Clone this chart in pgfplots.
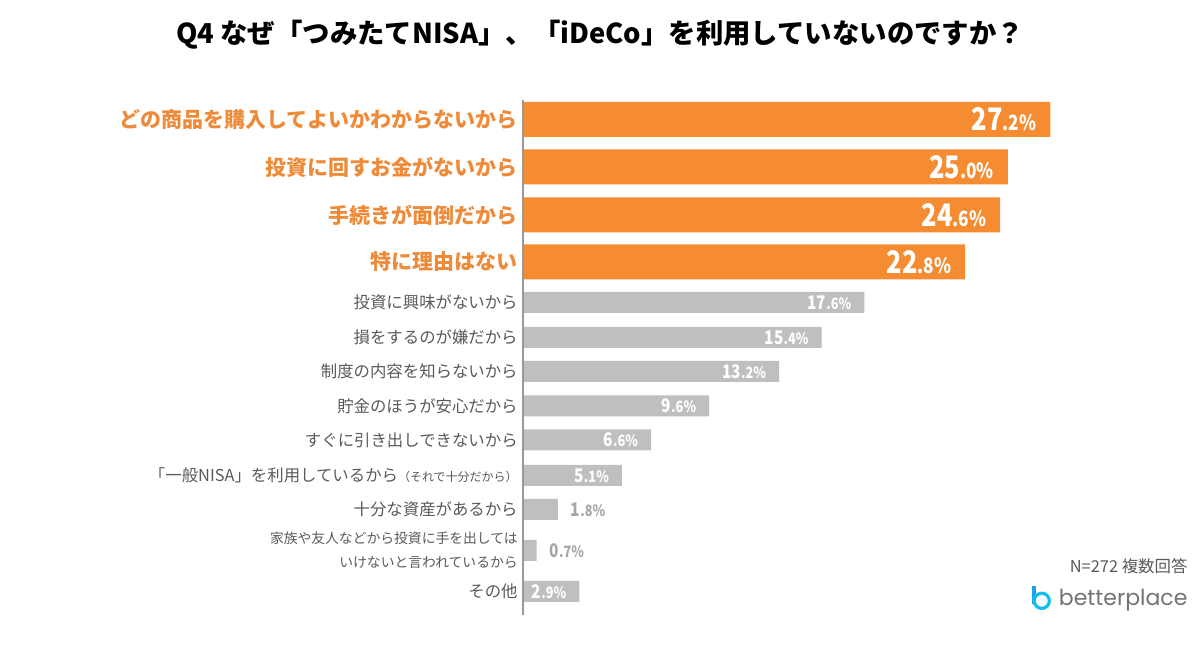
\documentclass[border=0pt]{standalone}
\usepackage{pgfplots}
\pgfplotsset{compat=1.18}
\usepackage{fontspec}
\setmainfont{Noto Sans CJK JP}
\newfontfamily\numfont[FakeStretch=0.82]{Noto Sans CJK JP}
\newfontfamily\logofont{Poppins}

\definecolor{barorange}{HTML}{F58C32}
\definecolor{laborange}{HTML}{EE8B3A}
\definecolor{bargray}{HTML}{BFBFBF}
\definecolor{labgray}{HTML}{595959}
\definecolor{vallight}{HTML}{A6A6A6}
\definecolor{logoblue}{HTML}{1AA3E8}

% category labels
\newcommand\olab[1]{{\fontsize{10.5}{12}\selectfont\bfseries\color{laborange}#1}}
\newcommand\glab[1]{{\fontsize{8.2}{10}\selectfont\color{labgray}#1}}
\newcommand\slab[1]{{\fontsize{6.9}{9}\selectfont\color{labgray}#1}}
% value labels: integer part large, decimals small
\def\vsplitO#1.#2\relax{{\numfont\bfseries\fontsize{15.5}{16}\selectfont #1}{\numfont\bfseries\fontsize{10.5}{11}\selectfont.#2\%}}
\def\vsplitG#1.#2\relax{{\numfont\bfseries\fontsize{9.4}{10}\selectfont #1}{\numfont\bfseries\fontsize{7.8}{8}\selectfont.#2\%}}

\begin{document}
\begin{tikzpicture}
\begin{axis}[
    width=600pt, height=326pt, scale only axis,
    xmin=-26.96, xmax=34.9,
    ymin=-652, ymax=0,
    clip=false,
    axis line style={draw=none},
    major tick length=0pt,
    xtick=\empty,
    ytick={-591.5,-550.5,-509.5,-475.5,-440,-406,-371.5,-337.5,-302.5,-262,-215,-167,-119.5},
    yticklabels={
        {\glab{その他}},
        {\slab{家族や友人などから投資に手を出しては}\\\slab{いけないと言われているから}},
        {\glab{十分な資産があるから}},
        {\glab{「一般NISA」を利用しているから}{\fontsize{6}{8}\selectfont\color{labgray}（それで十分だから）}},
        {\glab{すぐに引き出しできないから}},
        {\glab{貯金のほうが安心だから}},
        {\glab{制度の内容を知らないから}},
        {\glab{損をするのが嫌だから}},
        {\glab{投資に興味がないから}},
        {\olab{特に理由はない}},
        {\olab{手続きが面倒だから}},
        {\olab{投資に回すお金がないから}},
        {\olab{どの商品を購入してよいかわからないから}},
    },
    yticklabel style={anchor=east, align=right, inner sep=0pt, xshift=259pt},
    title={Q4 なぜ「つみたてNISA」、「iDeCo」を利用していないのですか？},
    title style={font=\fontsize{13.7}{16}\selectfont\bfseries, at={(0.5,1)}, anchor=center, yshift=-23.5pt},
    xbar,
    point meta=explicit symbolic,
]
\path (rel axis cs:0,0) rectangle (rel axis cs:1,1);

% top four reasons
\addplot[fill=barorange, draw=none, bar width=35, bar shift=0pt,
    nodes near coords={\edef\tmp{\pgfplotspointmeta}\expandafter\vsplitO\tmp\relax},
    every node near coord/.append style={anchor=east, xshift=-3.5pt, text=white}]
coordinates {
    (27.2,-119.5) [27.2]
    (25.0,-167) [25.0]
    (24.6,-215) [24.6]
    (22.8,-262) [22.8]
};

% other reasons, label inside
\addplot[fill=bargray, draw=none, bar width=21, bar shift=0pt,
    nodes near coords={\edef\tmp{\pgfplotspointmeta}\expandafter\vsplitG\tmp\relax},
    every node near coord/.append style={anchor=east, xshift=-3pt, text=white}]
coordinates {
    (17.6,-302.5) [17.6]
    (15.4,-337.5) [15.4]
    (13.2,-371.5) [13.2]
    (9.6,-406) [9.6]
    (6.6,-440) [6.6]
    (5.1,-475.5) [5.1]
    (2.9,-591.5) [2.9]
};

% small bars, label outside
\addplot[fill=bargray, draw=none, bar width=21, bar shift=0pt,
    nodes near coords={\edef\tmp{\pgfplotspointmeta}\expandafter\vsplitG\tmp\relax},
    every node near coord/.append style={anchor=west, xshift=3pt, text=vallight}]
coordinates {
    (1.8,-509.5) [1.8]
    (0.7,-550.5) [0.7]
};

\draw[color=black!40, line width=0.6pt] (axis cs:0,-100) -- (axis cs:0,-615);

\node[anchor=east, inner sep=0pt, font=\fontsize{8.2}{10}\selectfont, text=labgray]
    at (axis cs:34.28,-566) {N=272 複数回答};
\node[anchor=east, inner sep=0pt, font=\logofont\fontsize{11}{12}\selectfont, text=black!55]
    at (axis cs:34.28,-600) {betterplace};
\draw[logoblue, line width=1.6pt] (axis cs:26.35,-586) -- (axis cs:26.35,-604);
\draw[logoblue!70!cyan, line width=1.6pt] (axis cs:26.75,-601) circle (3.8pt);
\end{axis}
\end{tikzpicture}
\end{document}
